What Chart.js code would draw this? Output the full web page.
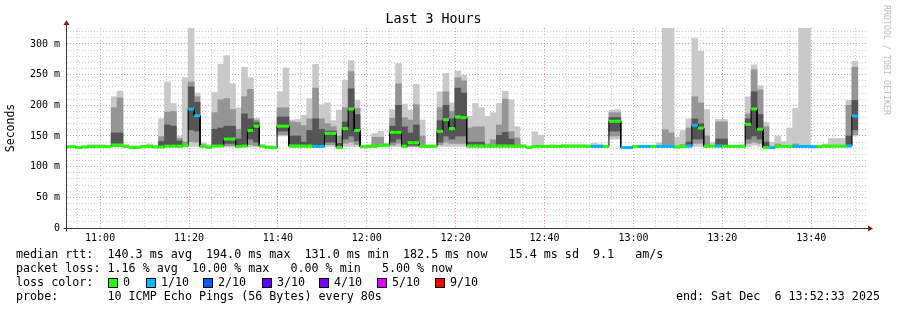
<!DOCTYPE html>
<html>
<head>
<meta charset="utf-8">
<script src="https://cdn.jsdelivr.net/npm/chart.js@4.4.1/dist/chart.umd.min.js"></script>
<style>
  body { margin: 0; background: #fff; }
  #wrap { position: relative; width: 897px; height: 310px; overflow: hidden; font-family: "DejaVu Sans Mono", monospace; }
  #chartBox { position: absolute; left: 0; top: 0; width: 897px; height: 310px; }
  .ln { position: absolute; left: 16px; font-size: 11.7px; line-height: 14px; white-space: pre; color: #000; }
  .box { position: absolute; width: 8px; height: 8px; border: 1px solid #000; }
  #credit { position: absolute; left: 892px; top: 5px; transform-origin: 0 0; transform: rotate(90deg);
            font-size: 8.3px; color: #bdbdbd; white-space: pre; }
</style>
</head>
<body>
<div id="wrap">
  <div id="chartBox"><canvas id="rtt"></canvas></div>
  <div id="credit">RRDTOOL / TOBI OETIKER</div>
  <div class="ln" style="top:247px">median rtt:  140.3 ms avg  194.0 ms max  131.0 ms min  182.5 ms now   15.4 ms sd  9.1   am/s</div>
  <div class="ln" style="top:261px">packet loss: 1.16 % avg  10.00 % max   0.00 % min   5.00 % now</div>
  <div class="ln" style="top:275px">loss color:</div>
  <div id="lossLegend"></div>
  <div class="ln" style="top:289px">probe:       10 ICMP Echo Pings (56 Bytes) every 80s</div>
  <div class="ln" style="top:289px;left:auto;right:17px">end: Sat Dec  6 13:52:33 2025</div>
</div>
<script>
// time window and sample step
const windowStart = "10:52:33";
const windowEnd   = "13:52:33";
const firstSample = "10:51:49";   // start of first (partial) 80s step
const stepSec = 80;

// loss classes
const lossLabels = ["0", "1/10", "2/10", "3/10", "4/10", "5/10", "9/10"];
const lossColors = ["#26ff00", "#00b8ff", "#0059ff", "#5e00ff", "#7e00ff", "#dd00ff", "#ff0000"];

// median rtt per step (ms)
const median = [
  132.6, 132.6, 131.0, 132.0, 132.6, 132.6, 132.6, 132.6,
  135.3, 135.3, 133.0, 131.4, 131.4, 133.0, 133.0, 132.0,
  132.0, 133.4, 133.4, 133.4, 135.6, 194.0, 183.0, 133.0,
  131.5, 133.7, 133.7, 145.0, 145.0, 133.0, 133.7, 159.0,
  166.0, 133.5, 131.5, 131.0, 166.0, 166.0, 133.7, 133.7,
  133.7, 133.7, 133.0, 133.0, 154.3, 154.3, 131.0, 162.0,
  194.0, 159.0, 132.5, 133.0, 133.7, 135.0, 135.0, 156.0,
  156.0, 133.5, 139.0, 139.0, 133.7, 133.0, 133.0, 157.6,
  176.6, 162.0, 181.0, 180.0, 133.7, 133.7, 133.7, 133.5,
  133.7, 133.7, 133.7, 133.7, 133.5, 133.5, 131.0, 133.0,
  133.0, 133.0, 133.0, 133.0, 133.5, 133.5, 133.5, 133.5,
  133.0, 133.0, 133.0, 133.0, 174.0, 174.0, 131.0, 131.0,
  133.0, 133.0, 133.0, 133.0, 133.0, 133.0, 133.0, 132.0,
  133.0, 134.0, 167.5, 163.0, 133.5, 133.5, 134.0, 133.5,
  133.0, 133.0, 133.0, 169.0, 194.0, 161.0, 131.0, 131.0,
  133.0, 133.0, 133.0, 133.0, 133.0, 133.0, 132.5, 132.5,
  133.5, 133.5, 133.5, 133.5, 134.0, 182.5
];

// loss class index per step
const loss = [
  0, 0, 0, 0, 0, 0, 0, 0,
  0, 0, 0, 0, 0, 0, 0, 0,
  0, 0, 0, 0, 0, 1, 1, 0,
  0, 0, 0, 0, 0, 0, 0, 0,
  0, 0, 0, 0, 0, 0, 0, 0,
  0, 0, 1, 1, 0, 0, 0, 0,
  0, 0, 0, 0, 0, 0, 0, 0,
  0, 0, 0, 0, 0, 0, 0, 0,
  0, 0, 0, 0, 0, 0, 0, 0,
  0, 0, 0, 0, 0, 0, 0, 0,
  0, 0, 0, 0, 0, 0, 0, 0,
  0, 1, 1, 0, 0, 0, 1, 1,
  0, 1, 1, 0, 1, 1, 1, 0,
  0, 1, 1, 0, 0, 0, 1, 0,
  0, 0, 0, 0, 0, 0, 0, 1,
  0, 0, 0, 1, 1, 1, 1, 0,
  0, 0, 0, 0, 1, 1
];

// smoke: min..max of the pings (ms)
const smokeOuter = [
  [131,134],[131,134],[130,133],[131,134],[131,136],[131,136],[131,136],[131,135],
  [132,214],[132,223],[131,136],[130,134],[130,134],[131,135],[131,137],[131,135],
  [131,178],[132,238],[132,203],[131,150],[132,245],[133,326],[133,220],[131,139],
  [130,136],[132,221],[132,267],[132,281],[132,235],[131,196],[132,262],[132,245],
  [132,179],[131,136],[130,134],[130,134],[150,222],[150,261],[131,176],[131,177],
  [131,184],[131,211],[131,267],[131,201],[133,204],[133,175],[130,192],[133,241],
  [133,273],[133,208],[131,135],[131,136],[131,154],[132,158],[132,138],[133,193],
  [133,268],[131,202],[132,192],[132,234],[131,176],[131,136],[131,136],[133,222],
  [133,252],[133,204],[133,256],[133,249],[131,182],[131,203],[131,196],[131,182],
  [131,188],[131,203],[131,223],[131,209],[131,165],[131,136],[130,134],[131,157],
  [131,151],[131,135],[131,136],[131,135],[131,136],[131,136],[131,136],[131,136],
  [131,136],[131,138],[131,137],[131,135],[145,192],[145,193],[130,133],[130,133],
  [131,135],[131,135],[131,134],[131,134],[131,139],[131,326],[131,326],[130,148],
  [131,159],[131,178],[133,309],[133,288],[131,193],[131,140],[131,177],[131,177],
  [131,135],[131,135],[131,136],[133,214],[135,266],[133,232],[130,172],[130,140],
  [131,150],[131,141],[131,163],[131,195],[131,326],[131,326],[131,135],[131,135],
  [131,137],[131,146],[131,146],[131,146],[131,208],[150,272]
];

// smoke: inner ping spread
const smokeMid = [
  null, null, null, null, null, null, null, null,
  [133,196],[133,212], null, null, null, null, null, null,
  [132,149],[133,189],[133,190],[132,146],[133,140],[141,238],[140,214],[132,136],
  null,[133,188],[133,209],[134,211],[134,193],[132,161],[133,214],[136,226],
  [134,176], null, null, null,[152,196],[152,196],[132,173],[132,172],
  [132,167],[132,178],[132,228],[132,178],[136,170],[136,165],[131,150],[138,196],
  [140,255],[136,195], null, null,[132,148],[133,148], null,[135,179],
  [138,235],[132,180],[133,176],[133,201],[132,150], null, null,[136,196],
  [140,222],[138,190],[138,245],[138,240],[132,163],[132,165],[132,165],[132,137],
  [132,144],[132,168],[132,210],[132,157],[132,147], null, null, null,
  null, null, null, null, null, null, null, null,
  null, null, null, null,[150,188],[150,188], null, null,
  null, null, null, null, null,[132,160],[132,155], null,
  [132,136],[132,163],[138,214],[138,204],[132,150], null,[132,173],[132,173],
  null, null, null,[138,186],[140,258],[138,225],[131,165], null,
  [132,137], null, null,[132,137], null, null, null, null,
  null, null, null, null,[133,200],[152,262]
];

// smoke: pings closest to the median
const smokeInner = [
  null, null, null, null, null, null, null, null,
  [134,155],[134,155], null, null, null, null, null, null,
  [132,141],[134,168],[134,166],[133,142],[134,137],[160,230],[158,205], null,
  null,[134,161],[134,163],[138,166],[138,166],[133,145],[134,186],[145,178],
  [140,172], null, null, null,[158,181],[158,181],[133,150],[133,150],
  [133,140],[133,159],[133,178],[133,161],[140,158],[140,158],[131,138],[145,173],
  [150,227],[142,185], null, null, null, null, null,[140,166],
  [145,200],[133,165],[135,155],[135,168], null, null, null,[140,175],
  [150,200],[145,178],[150,228],[150,220],[133,140],[133,140],[133,140], null,
  null,[133,151],[133,156],[133,145], null, null, null, null,
  null, null, null, null, null, null, null, null,
  null, null, null, null,[158,180],[158,180], null, null,
  null, null, null, null, null, null, null, null,
  null,[133,140],[145,178],[145,170], null, null,[133,145],[133,145],
  null, null, null,[145,178],[150,222],[145,185],[131,140], null,
  null, null, null, null, null, null, null, null,
  null, null, null, null,[134,150],[160,208]
];

function toMin(hms) {
  const [h, m, s] = hms.split(":").map(Number);
  return h * 60 + m + s / 60;
}
const stepMin = stepSec / 60;
const t0 = toMin(firstSample);
const stepStart = i => t0 + i * stepMin;
const stepMid = i => stepStart(i) + stepMin / 2;
const xMin = toMin(windowStart), xMax = toMin(windowEnd);

function barData(arr) {
  return arr.map((r, i) => ({ x: stepMid(i), y: r }));
}

const medPts = [];
median.forEach((m, i) => {
  medPts.push({ x: stepStart(i), y: m }, { x: stepStart(i) + stepMin, y: m });
});

// grid every 5 minutes, labels every 20
const timeTicks = [];
for (let m = Math.ceil(xMin / 5) * 5; m <= xMax; m += 5) timeTicks.push({ value: m });

// loss legend
const legEl = document.getElementById("lossLegend");
const legLeft = [108, 146, 203, 262, 319, 377, 435];
lossLabels.forEach((lab, i) => {
  const b = document.createElement("div");
  b.className = "box";
  b.style.left = legLeft[i] + "px";
  b.style.top = "278px";
  b.style.background = lossColors[i];
  legEl.appendChild(b);
  const t = document.createElement("div");
  t.className = "ln";
  t.style.left = (legLeft[i] + 15) + "px";
  t.style.top = "275px";
  t.textContent = lab;
  legEl.appendChild(t);
});

const MONO = "'DejaVu Sans Mono', monospace";
Chart.defaults.font.family = MONO;
Chart.defaults.color = "#000";

const axisArrows = {
  id: "axisArrows",
  afterDatasetsDraw(chart) {
    const { ctx, chartArea: a } = chart;
    const x0 = Math.round(a.left) - 0.5, y0 = Math.round(a.bottom) + 0.5;
    ctx.save();
    ctx.strokeStyle = "#3a3a3a";
    ctx.lineWidth = 1;
    ctx.beginPath();
    ctx.moveTo(x0, y0 + 3); ctx.lineTo(x0, a.top - 4);
    ctx.moveTo(x0 - 3, y0); ctx.lineTo(a.right + 2, y0);
    ctx.stroke();
    ctx.fillStyle = "#8b1c1c";
    ctx.beginPath();
    ctx.moveTo(x0 - 3, a.top - 3); ctx.lineTo(x0 + 3, a.top - 3); ctx.lineTo(x0, a.top - 8);
    ctx.closePath(); ctx.fill();
    ctx.beginPath();
    ctx.moveTo(a.right + 1, y0 - 3); ctx.lineTo(a.right + 1, y0 + 3); ctx.lineTo(a.right + 6, y0);
    ctx.closePath(); ctx.fill();
    ctx.restore();
  }
};

const smoke = (label, arr, color, order) => ({
  type: "bar", label, data: barData(arr), backgroundColor: color,
  borderWidth: 0, grouped: false, barPercentage: 1, categoryPercentage: 1, order
});

new Chart(document.getElementById("rtt"), {
  type: "bar",
  data: {
    datasets: [
      smoke("smoke outer", smokeOuter, "#c9c9c9", 5),
      smoke("smoke mid", smokeMid, "#959595", 4),
      smoke("smoke inner", smokeInner, "#555555", 3),
      {
        type: "line", label: "median", data: medPts, borderColor: "#000",
        borderWidth: 1, pointRadius: 0, tension: 0, order: 2
      },
      {
        type: "line", label: "median loss", data: medPts, borderWidth: 3,
        borderCapStyle: "butt", pointRadius: 0, tension: 0, order: 1,
        segment: {
          borderColor: c => c.p0DataIndex % 2 === 0 ? lossColors[loss[c.p0DataIndex >> 1]] : "rgba(0,0,0,0)"
        }
      }
    ]
  },
  options: {
    responsive: true,
    maintainAspectRatio: false,
    animation: false,
    layout: { padding: { left: 0, right: 30, top: 0, bottom: 62 } },
    plugins: {
      legend: { display: false },
      tooltip: { enabled: false },
      title: {
        display: true, text: "Last 3 Hours", color: "#000",
        font: { family: MONO, size: 13.3, weight: "normal", lineHeight: 1.2 },
        padding: { top: 12, bottom: 0 }
      }
    },
    scales: {
      x: {
        type: "linear",
        offset: false,
        min: xMin,
        max: xMax,
        afterBuildTicks: s => { s.ticks = timeTicks.map(t => ({ value: t.value })); },
        afterFit: s => { s.height = 20; },
        border: { display: false, dash: [1, 2] },
        grid: {
          offset: false, drawTicks: false,
          color: c => c.tick && Math.round(c.tick.value) % 20 === 0 ? "#e79a9a" : "#cfcfcf"
        },
        ticks: {
          autoSkip: false, maxRotation: 0,
          padding: 4, font: { size: 10, family: MONO },
          callback: v => {
            const m = Math.round(v);
            if (m % 20 !== 0) return "";
            return String(Math.floor(m / 60)).padStart(2, "0") + ":" + String(m % 60).padStart(2, "0");
          }
        }
      },
      y: {
        min: 0,
        max: 326.1,
        afterFit: s => { s.width = 67; },
        border: { display: false, dash: [1, 2] },
        grid: {
          drawTicks: false,
          color: c => c.tick && Math.round(c.tick.value) % 50 === 0 ? "#e79a9a" : "#cfcfcf"
        },
        title: {
          display: true, text: "Seconds", color: "#000",
          font: { family: MONO, size: 11.5 }, padding: { top: 4, bottom: 0 }
        },
        ticks: {
          stepSize: 10, includeBounds: false, autoSkip: false, padding: 7,
          font: { size: 10, family: MONO },
          callback: v => {
            const r = Math.round(v);
            return r % 50 !== 0 ? "" : (r === 0 ? "0" : r + " m");
          }
        }
      }
    }
  },
  plugins: [axisArrows]
});
</script>
</body>
</html>
